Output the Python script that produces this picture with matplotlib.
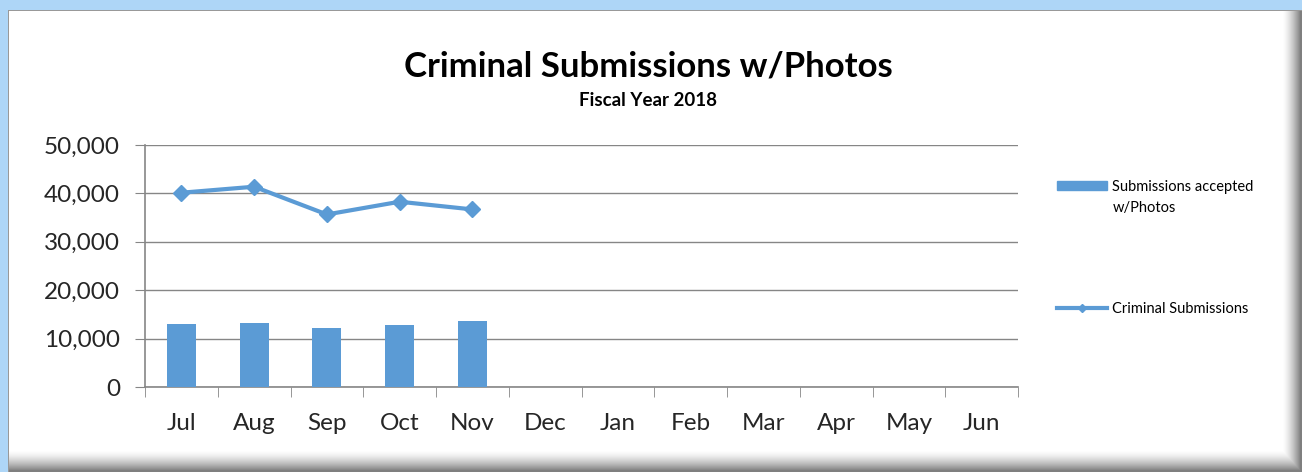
import numpy as np
import matplotlib.pyplot as plt
from matplotlib.patches import Rectangle
from matplotlib.lines import Line2D

# Data
months = ["Jul", "Aug", "Sep", "Oct", "Nov", "Dec", "Jan", "Feb", "Mar", "Apr", "May", "Jun"]
accepted_photos = [13030, 13300, 12200, 12830, 13570]
criminal_subs = [40140, 41380, 35650, 38280, 36690]

blue = "#5B9BD5"
grid_col = "#868686"
text_col = "#262626"

plt.rcParams['font.family'] = ['Lato', 'DejaVu Sans']

W, H = 1302, 472
fig = plt.figure(figsize=(W / 100, H / 100), dpi=100)

# window-like background: blue frame, white panel, shaded right/bottom edge
bg = np.ones((H, W, 3))
xx = np.arange(W)[None, :]
yy = np.arange(H)[:, None]
shade_r = np.clip((xx - 1282) / 18.0, 0, 1)
shade_b = np.clip((yy - 450) / 20.0, 0, 1)
shade = np.maximum(shade_r, shade_b) ** 1.5 * 0.5
bg = bg * (1 - shade[..., None])
bg[:10, :, :] = np.array([174, 214, 247]) / 255
bg[:, :8, :] = np.array([174, 214, 247]) / 255
bg[10, 8:, :] = 0.6
bg[10:, 8, :] = 0.6
bg_ax = fig.add_axes([0, 0, 1, 1], zorder=0)
bg_ax.imshow(bg, aspect="auto", interpolation="bilinear")
bg_ax.axis("off")

ax = fig.add_axes([145 / W, 1 - 387 / H, 873 / W, 242 / H], zorder=2)
ax.set_facecolor("none")

x = np.arange(len(months))
bars = ax.bar(x[:len(accepted_photos)], accepted_photos, width=0.4, color=blue, zorder=3)
line, = ax.plot(x[:len(criminal_subs)], criminal_subs, color=blue, linewidth=3,
                marker="D", markersize=8, zorder=4)

ax.set_xlim(-0.5, len(months) - 0.5)
ax.set_ylim(0, 50000)
ax.set_yticks(np.arange(0, 50001, 10000))
ax.set_yticklabels([f"{v:,}" for v in range(0, 50001, 10000)], fontsize=17.5, color=text_col)
ax.set_xticks(x)
ax.set_xticklabels(months, fontsize=17.5, color=text_col)
ax.set_xticks(np.arange(-0.5, len(months), 1), minor=True)
ax.tick_params(axis="x", which="major", length=0, pad=19)
ax.tick_params(axis="x", which="minor", length=7, color=grid_col, direction="out")
ax.tick_params(axis="y", length=7, color=grid_col, pad=11)
ax.yaxis.grid(True, color=grid_col, linewidth=1)
ax.set_axisbelow(True)
for s in ["top", "right"]:
    ax.spines[s].set_visible(False)
for s in ["left", "bottom"]:
    ax.spines[s].set_color(grid_col)
    ax.spines[s].set_linewidth(1.2)

fig.text(648 / W, 1 - 67 / H, "Criminal Submissions w/Photos", ha="center", va="center",
         fontsize=25, fontweight="bold")
fig.text(648 / W, 1 - 101 / H, "Fiscal Year 2018", ha="center", va="center",
         fontsize=13.5, fontweight="bold")

# legend: one entry each, placed like the reference
bar_handle = Rectangle((0, 0), 1, 1, color=blue)
line_handle = Line2D([], [], color=blue, linewidth=3, marker="D", markersize=4)
leg_kw = dict(loc="center left", frameon=False, fontsize=10.5, handlelength=3.4,
              handleheight=0.6, handletextpad=0.4, borderpad=0, borderaxespad=0)
leg1 = fig.legend([bar_handle], ["Submissions accepted"],
                  bbox_to_anchor=(1057 / W, 1 - 187 / H), **leg_kw)
leg2 = fig.legend([line_handle], ["Criminal Submissions"],
                  bbox_to_anchor=(1057 / W, 1 - 309 / H), **leg_kw)
fig.text(1113 / W, 1 - 208 / H, "w/Photos", fontsize=10.5, va="center", ha="left")

fig.savefig("out.png", dpi=100)
